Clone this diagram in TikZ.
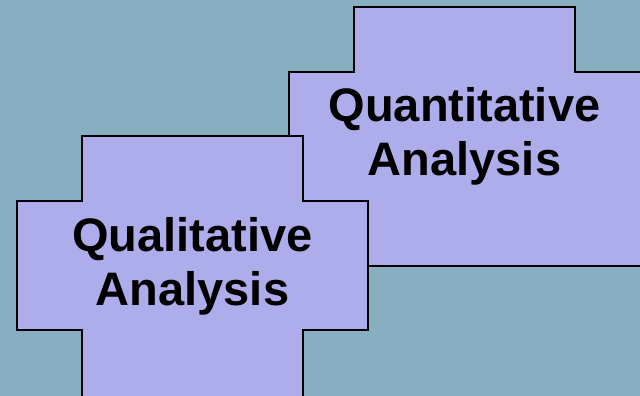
\documentclass[tikz,border=0pt]{standalone}
\usepackage{fontspec}
\setmainfont{Liberation Sans}
\definecolor{bgc}{RGB}{135,175,193}
\definecolor{crossfill}{RGB}{174,173,236}
\tikzset{
  crossshape/.style={draw=black, fill=crossfill, line width=1.5pt, line join=miter},
  crosslabel/.style={font=\fontsize{47}{54}\selectfont\bfseries, align=center, text=black, inner sep=0pt}
}
\begin{document}
\begin{tikzpicture}[x=1pt,y=-1pt]
\fill[bgc] (0,0) rectangle (640,396);
\useasboundingbox (0,0) rectangle (640,396);
% right cross (behind)
\draw[crossshape] (354,7) -- (575,7) -- (575,72) -- (641,72) -- (641,266) -- (575,266) -- (575,266)
  -- (354,266) -- (354,201) -- (289,201) -- (289,72) -- (354,72) -- cycle;
% left cross (front)
\draw[crossshape] (82,136) -- (303,136) -- (303,201) -- (368,201) -- (368,330) -- (303,330) -- (303,398)
  -- (82,398) -- (82,330) -- (17,330) -- (17,201) -- (82,201) -- cycle;
\node[crosslabel] (quant) at (464.5,136) {Quantitative\\Analysis};
\node[crosslabel] (qual) at (192.5,266) {Qualitative\\Analysis};
\end{tikzpicture}
\end{document}
